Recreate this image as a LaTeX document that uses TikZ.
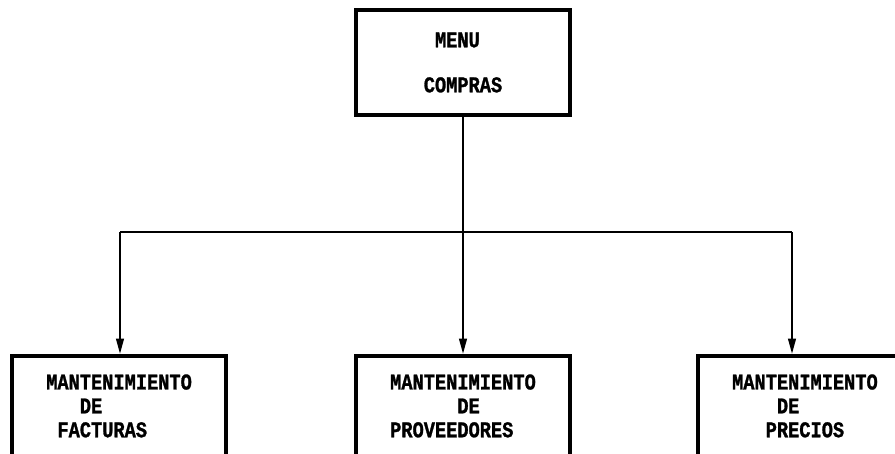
\documentclass[tikz,border=0pt]{standalone}
\usepackage{fontspec}
\newfontfamily\dotfont[FakeStretch=0.83,FakeBold=1.2]{Liberation Mono}
\usepackage{tikz}
\usetikzlibrary{positioning,arrows.meta}

\begin{document}
\begin{tikzpicture}[
			box/.style={
				draw, rectangle, line width=2.8pt, align=left,
				minimum width=5.35cm, minimum height=2.5cm,
				font={\dotfont\bfseries\fontsize{16pt}{17pt}\selectfont}
			},
			arr/.style={-{Triangle[length=11pt,width=5.5pt]}, line width=1.5pt}
			]
			\useasboundingbox (0,0) rectangle (22.375,-11.35);
			
			%==================== menu ====================
			\node[box, minimum height=2.625cm] (menu) at (11.575,-1.5625) {~MENU\\[15pt]COMPRAS};
			
			%==================== mantenimientos ====================
			\node[box, below=5.925cm of menu] (proveedores) {
				MANTENIMIENTO\\
				~~~~~~DE\\
				PROVEEDORES
			};
			
			\node[box, left=3.15cm of proveedores] (facturas) {
				MANTENIMIENTO\\
				~~~DE\\
				~FACTURAS
			};
			
			\node[box, right=3.1cm of proveedores] (precios) {
				MANTENIMIENTO\\
				~~~~DE\\
				~~~PRECIOS
			};
			
			%==================== conexiones ====================
			\coordinate (busL) at (3.0,-5.8);
			\coordinate (busR) at (19.8,-5.8);
			\draw[line width=1.5pt] (menu.south) -- (menu.south |- busL);
			\draw[line width=1.5pt] (busL) -- (busR);
			\draw[arr] (busL) -- (busL |- facturas.north);
			\draw[arr] (menu.south |- busL) -- (proveedores.north);
			\draw[arr] (busR) -- (busR |- precios.north);
			
		\end{tikzpicture}
\end{document}
